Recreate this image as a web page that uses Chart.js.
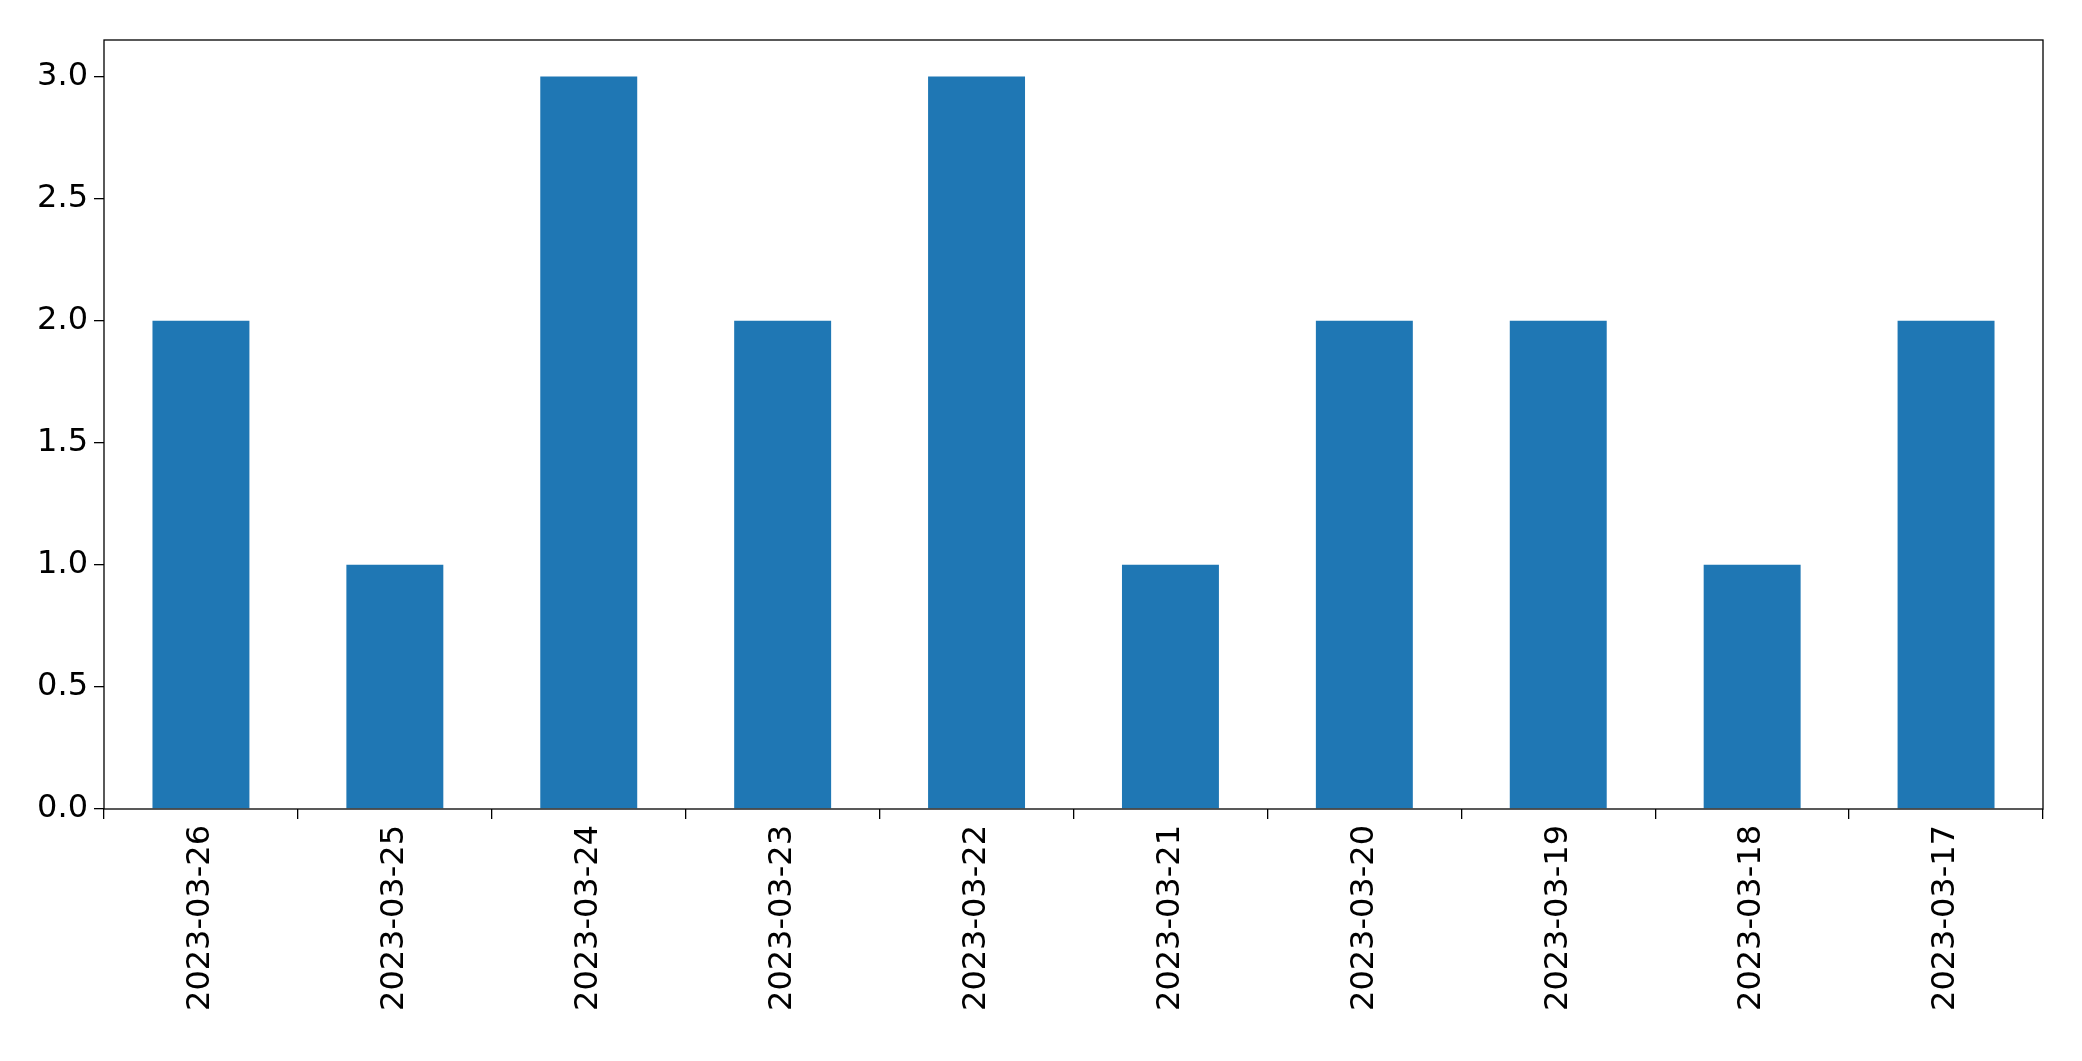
<!DOCTYPE html>
<html lang="en">
<head>
<meta charset="UTF-8">
<title>Bar chart</title>
<script src="https://cdn.jsdelivr.net/npm/chart.js"></script>
<style>
  body { margin: 0; background: #fff; }
  canvas { display: block; }
</style>
</head>
<body>
<canvas id="chart" width="2082" height="1061"></canvas>
<script>
// data
const dates = ['2023-03-26', '2023-03-25', '2023-03-24', '2023-03-23', '2023-03-22',
               '2023-03-21', '2023-03-20', '2023-03-19', '2023-03-18', '2023-03-17'];
const counts = [2, 1, 3, 2, 3, 1, 2, 2, 1, 2];
const yTicks = [0, 0.5, 1, 1.5, 2, 2.5, 3];

// black frame around the plot area, like matplotlib
const frame = {
  id: 'frame',
  afterDraw(chart) {
    const a = chart.chartArea, c = chart.ctx;
    c.save();
    c.strokeStyle = '#000';
    c.lineWidth = 1.3;
    c.strokeRect(a.left, a.top, a.right - a.left, a.bottom - a.top);
    c.restore();
  }
};

new Chart(document.getElementById('chart'), {
  type: 'bar',
  data: {
    labels: dates,
    datasets: [{
      data: counts,
      backgroundColor: '#1f77b4',
      barPercentage: 0.5,
      categoryPercentage: 1.0
    }]
  },
  options: {
    responsive: false,
    animation: false,
    layout: { padding: { top: 40, right: 39, left: 0, bottom: 0 } },
    plugins: { legend: { display: false }, tooltip: { enabled: false } },
    scales: {
      x: {
        grid: { drawOnChartArea: false, tickLength: 10, color: '#000', lineWidth: 1.3 },
        border: { display: false },
        ticks: {
          color: '#000', maxRotation: 90, minRotation: 90, padding: 6,
          font: { family: 'DejaVu Sans', size: 32 }
        },
        afterFit(s) { s.height = 252; }
      },
      y: {
        min: 0, max: 3.15,
        grid: { drawOnChartArea: false, tickLength: 10, color: '#000', lineWidth: 1.3 },
        border: { display: false },
        afterBuildTicks(s) { s.ticks = yTicks.map(v => ({ value: v })); },
        ticks: {
          color: '#000', padding: 6,
          font: { family: 'DejaVu Sans', size: 32 },
          callback: v => Number(v).toFixed(1)
        },
        afterFit(s) { s.width = 104; }
      }
    }
  },
  plugins: [frame]
});
</script>
</body>
</html>
